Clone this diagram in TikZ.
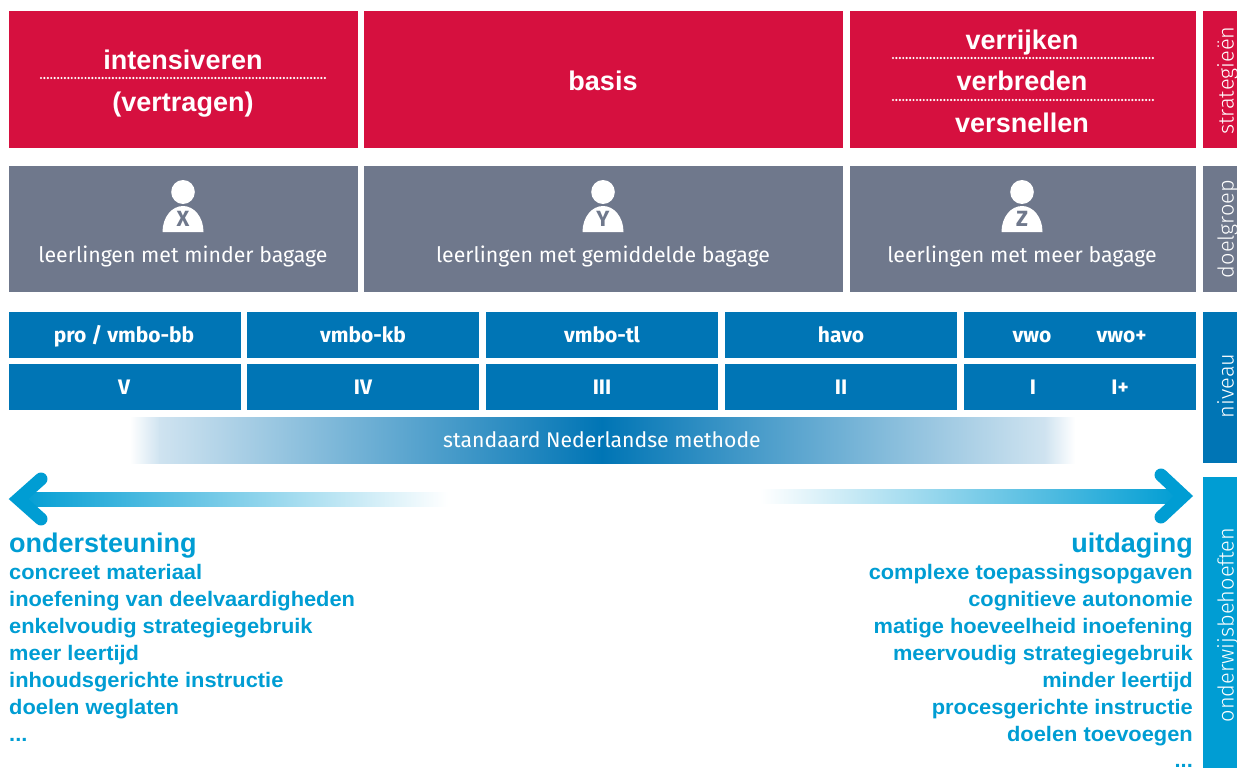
\documentclass[tikz,border=0pt]{standalone}
\usepackage{fontspec}
\setmainfont{Liberation Sans}
\newfontfamily\firaf{Fira Sans}
\newfontfamily\firafl{Fira Sans Light}
\newfontfamily\listf[FakeStretch=1.04]{Liberation Sans}
\definecolor{cred}{HTML}{D6103F}
\definecolor{cgrey}{HTML}{6F788C}
\definecolor{cblue}{HTML}{0075B5}
\definecolor{clight}{HTML}{009DD3}
\definecolor{cbarmid}{HTML}{0075B5}
\definecolor{cbarlow}{HTML}{CFE3F0}
\tikzset{
  redbox/.style={fill=cred},
  greybox/.style={fill=cgrey},
  bluebox/.style={fill=cblue},
  headtext/.style={text=white,font=\fontsize{27}{27}\selectfont\bfseries,inner sep=0pt,anchor=base},
  lvltext/.style={text=white,font=\firaf\fontsize{21}{21}\selectfont\bfseries,inner sep=0pt,anchor=base},
  grouptext/.style={text=white,font=\firaf\fontsize{21.3}{21.3}\selectfont,inner sep=0pt,anchor=base},
  sidetext/.style={text=white,font=\firafl\fontsize{21.8}{21.8}\selectfont,inner sep=0pt,rotate=90,anchor=base},
  listhead/.style={text=clight,font=\fontsize{27}{27}\selectfont\bfseries,inner sep=0pt,anchor=base},
  listtext/.style={text=clight,font=\listf\fontsize{21}{21}\selectfont\bfseries,inner sep=0pt},
  lettertext/.style={text=cgrey,font=\firaf\fontsize{22}{22}\selectfont\bfseries,inner sep=0pt},
  dotline/.style={draw=white,line width=2.4pt,line cap=round,dash pattern=on 0pt off 3.42pt},
  chevron/.style={draw=clight,line width=13pt,line cap=round,line join=miter},
  person/.pic={
    \fill[white] (0,-30) ellipse (11.8 and 12);
    \fill[white] (-20.5,10) -- (20.5,10) .. controls (20.5,-5) and (11,-16) .. (0,-16) .. controls (-11,-16) and (-20.5,-5) .. (-20.5,10) -- cycle;
  }
}
\begin{document}
\begin{tikzpicture}[x=1pt,y=-1pt]
\useasboundingbox (0,0) rectangle (1237,768);
\fill[redbox] (9,11) rectangle (358,148);
\fill[redbox] (364,11) rectangle (843,148);
\fill[redbox] (850,11) rectangle (1196,148);
\fill[redbox] (1203,11) rectangle (1237,148);
\fill[greybox] (9,166) rectangle (358,292);
\fill[greybox] (364,166) rectangle (843,292);
\fill[greybox] (850,166) rectangle (1196,292);
\fill[greybox] (1203,166) rectangle (1237,292);
\foreach \xa/\xb in {9/241,247/479,486/718,725/957,964/1196}{
  \fill[bluebox] (\xa,312) rectangle (\xb,358);
  \fill[bluebox] (\xa,364) rectangle (\xb,410);
}
\fill[bluebox] (1203,312) rectangle (1237,463);
\fill[clight] (1203,477) rectangle (1237,768);
\shade[left color=white,right color=cbarlow] (130,417) rectangle (160,463);
\shade[left color=cbarlow,right color=cbarmid] (159.5,417) rectangle (602,463);
\shade[left color=cbarmid,right color=cbarlow] (601.5,417) rectangle (1045,463);
\shade[left color=cbarlow,right color=white] (1044.5,417) rectangle (1075,463);
\node[headtext] (t1) at (183,70) {intensiveren};
\node[headtext] (t2) at (183,111) {(vertragen)};
\node[headtext] (t3) at (603,90) {basis};
\node[headtext] (t4) at (1022,49) {verrijken};
\node[headtext] (t5) at (1022,90) {verbreden};
\node[headtext] (t6) at (1022,132) {versnellen};
\coordinate (d1a) at (41,78); \coordinate (d1b) at (327,78);
\coordinate (d2a) at (893,58); \coordinate (d2b) at (1154,58);
\coordinate (d3a) at (893,100); \coordinate (d3b) at (1154,100);
\draw[dotline] (d1a) -- (d1b);
\draw[dotline] (d2a) -- (d2b);
\draw[dotline] (d3a) -- (d3b);
\pic at (183,222) {person};
\pic at (603,222) {person};
\pic at (1022,222) {person};
\node[lettertext] (px) at (183,219) {X};
\node[lettertext] (py) at (603,219) {Y};
\node[lettertext] (pz) at (1022,219) {Z};
\node[grouptext] (g1) at (183,262) {leerlingen met minder bagage};
\node[grouptext] (g2) at (603,262) {leerlingen met gemiddelde bagage};
\node[grouptext] (g3) at (1022,262) {leerlingen met meer bagage};
\node[sidetext] (s1) at (1233.5,80.5) {strategieën};
\node[sidetext] (s2) at (1233.5,229) {doelgroep};
\node[sidetext] (s3) at (1233.5,386) {niveau};
\node[sidetext] (s4) at (1233.5,625) {onderwijsbehoeften};
\node[lvltext] (l1) at (124,342) {pro / vmbo-bb};
\node[lvltext] (l2) at (363,342) {vmbo-kb};
\node[lvltext] (l3) at (602,342) {vmbo-tl};
\node[lvltext] (l4) at (841,342) {havo};
\node[lvltext] (l5) at (1032,342) {vwo};
\node[lvltext] (l6) at (1121.5,342) {vwo+};
\node[lvltext] (r1) at (124,394.5) {V};
\node[lvltext] (r2) at (363,394.5) {IV};
\node[lvltext] (r3) at (602,394.5) {III};
\node[lvltext] (r4) at (841,394.5) {II};
\node[lvltext] (r5) at (1033,394.5) {I};
\node[lvltext] (r6) at (1120,394.5) {I+};
\node[text=white,font=\firaf\fontsize{21.2}{21.2}\selectfont,inner sep=0pt,anchor=base] (bar) at (602,447) {standaard Nederlandse methode};
\shade[left color=clight,right color=white] (18,492) rectangle (448,506);
\draw[chevron] (41,479) -- (18.5,499) -- (41,519);
\shade[left color=white,right color=clight] (760,489.5) rectangle (1180,503);
\draw[chevron] (1161,475) -- (1183.5,496) -- (1161,517);
\node[listhead,anchor=base west] (lh) at (9,552) {ondersteuning};
\foreach \n/\yy/\lbl in {a/579/concreet materiaal,b/606/inoefening van deelvaardigheden,c/633/enkelvoudig strategiegebruik,d/660/meer leertijd,e/687/inhoudsgerichte instructie,f/714/doelen weglaten}{
  \node[listtext,anchor=base west] (left\n) at (9,\yy) {\lbl};
}
\node[listtext,anchor=base west] (leftg) at (9,741) {...};
\node[listhead,anchor=base east] (rh) at (1193,552) {uitdaging};
\foreach \n/\yy/\lbl in {a/579/complexe toepassingsopgaven,b/606/cognitieve autonomie,c/633/matige hoeveelheid inoefening,d/660/meervoudig strategiegebruik,e/687/minder leertijd,f/714/procesgerichte instructie,g/741/doelen toevoegen}{
  \node[listtext,anchor=base east] (right\n) at (1193,\yy) {\lbl};
}
\node[listtext,anchor=base east] (righth) at (1193,767) {...};
\end{tikzpicture}
\end{document}
